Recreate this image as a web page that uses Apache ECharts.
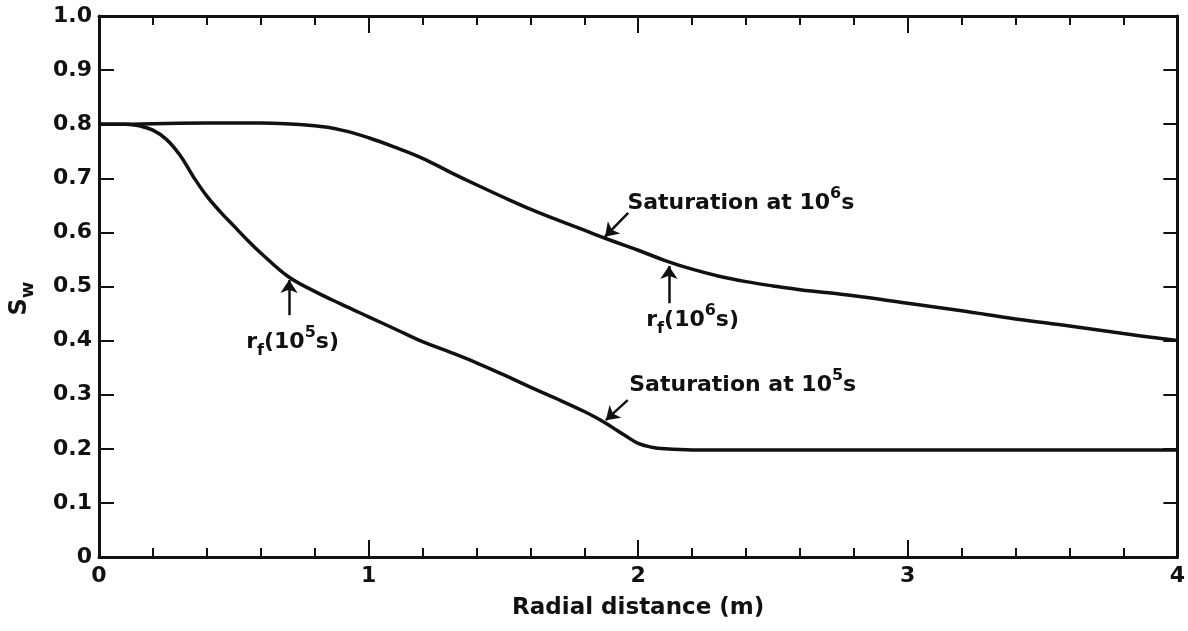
<!DOCTYPE html>
<html>
<head>
<meta charset="utf-8">
<script src="https://cdn.jsdelivr.net/npm/echarts@6/dist/echarts.min.js"></script>
<style>
  html, body { margin: 0; padding: 0; background: #fff; }
  #chart { width: 1188px; height: 631px; }
</style>
</head>
<body>
<div id="chart"></div>
<script>
// saturation profile at 10^6 s
const radial6 = [0, 0.1, 0.2, 0.4, 0.6, 0.8, 0.9, 1.0, 1.1, 1.2, 1.3, 1.4, 1.5, 1.6, 1.7, 1.8, 1.9, 2.0, 2.1, 2.2, 2.3, 2.4, 2.5, 2.6, 2.8, 3.0, 3.2, 3.4, 3.6, 3.8, 4.0];
const sat6 = [0.80, 0.800, 0.801, 0.802, 0.802, 0.797, 0.789, 0.775, 0.757, 0.737, 0.712, 0.688, 0.665, 0.643, 0.623, 0.604, 0.585, 0.567, 0.548, 0.532, 0.519, 0.509, 0.501, 0.494, 0.483, 0.469, 0.455, 0.440, 0.427, 0.413, 0.400];

// saturation profile at 10^5 s
const radial5 = [0, 0.05, 0.1, 0.15, 0.2, 0.25, 0.3, 0.35, 0.4, 0.45, 0.5, 0.55, 0.6, 0.7, 0.8, 0.9, 1.0, 1.1, 1.2, 1.3, 1.4, 1.5, 1.6, 1.7, 1.8, 1.85, 1.9, 1.95, 2.0, 2.05, 2.1, 2.2, 3.0, 4.0];
const sat5 = [0.80, 0.800, 0.800, 0.797, 0.789, 0.772, 0.743, 0.703, 0.667, 0.638, 0.612, 0.586, 0.562, 0.519, 0.491, 0.467, 0.444, 0.421, 0.398, 0.379, 0.359, 0.337, 0.314, 0.292, 0.269, 0.256, 0.241, 0.225, 0.210, 0.203, 0.200, 0.198, 0.198, 0.198];

const xTickLabels = ['0', '1', '2', '3', '4'];
const yTickLabels = ['0', '0.1', '0.2', '0.3', '0.4', '0.5', '0.6', '0.7', '0.8', '0.9', '1.0'];

const font = 'DejaVu Sans';
const ink = '#111';

const zip = (xs, ys) => xs.map((x, i) => [x, ys[i]]);

const rich = {
    b: { fontFamily: font, fontWeight: 'bold', fontSize: 22, color: ink, lineHeight: 34 },
    sup: { fontFamily: font, fontWeight: 'bold', fontSize: 16, color: ink, verticalAlign: 'top', lineHeight: 34 },
    sub: { fontFamily: font, fontWeight: 'bold', fontSize: 16, color: ink, verticalAlign: 'bottom', lineHeight: 34 }
};

// text notes, anchored in data coordinates
const notes = [
    { value: [1.96, 0.654], text: '{b|Saturation at 10}{sup|6}{b|s}' },
    { value: [2.03, 0.438], text: '{b|r}{sub|f}{b|(10}{sup|6}{b|s)}' },
    { value: [0.546, 0.397], text: '{b|r}{sub|f}{b|(10}{sup|5}{b|s)}' },
    { value: [1.967, 0.318], text: '{b|Saturation at 10}{sup|5}{b|s}' }
];

const arrows = [
    [[1.963, 0.636], [1.877, 0.592]],
    [[2.114, 0.469], [2.114, 0.538]],
    [[0.705, 0.447], [0.705, 0.512]],
    [[1.961, 0.290], [1.880, 0.253]]
];

const chart = echarts.init(document.getElementById('chart'));

const frameLine = { show: true, onZero: false, lineStyle: { color: ink, width: 3 } };

chart.setOption({
    animation: false,
    grid: { left: 97, right: 6, top: 16, bottom: 74 },
    xAxis: [
        {
            type: 'value', min: 0, max: 4, interval: 1, position: 'bottom',
            name: 'Radial distance (m)', nameLocation: 'middle', nameGap: 40,
            nameTextStyle: { fontFamily: font, fontWeight: 'bold', fontSize: 23, color: ink },
            axisLine: frameLine,
            axisTick: { show: true, inside: true, length: 17, lineStyle: { color: ink, width: 2 } },
            minorTick: { show: true, splitNumber: 5, length: 9, lineStyle: { color: ink, width: 2 } },
            axisLabel: {
                fontFamily: font, fontWeight: 'bold', fontSize: 22, color: ink, margin: 8,
                formatter: v => xTickLabels[Math.round(v)]
            },
            splitLine: { show: false }
        },
        {
            type: 'value', min: 0, max: 4, interval: 1, position: 'top',
            axisLine: frameLine,
            axisTick: { show: true, inside: true, length: 17, lineStyle: { color: ink, width: 2 } },
            minorTick: { show: true, splitNumber: 5, length: 9, lineStyle: { color: ink, width: 2 } },
            axisLabel: { show: false },
            splitLine: { show: false }
        }
    ],
    yAxis: [
        {
            type: 'value', min: 0, max: 1, interval: 0.1, position: 'left',
            name: '{b|S}{sub|w}', nameLocation: 'middle', nameGap: 62, nameRotate: 90,
            nameTextStyle: {
                padding: [0, 24, 0, 0],
                rich: {
                    b: { fontFamily: font, fontWeight: 'bold', fontSize: 24, color: ink, lineHeight: 34 },
                    sub: { fontFamily: font, fontWeight: 'bold', fontSize: 18, color: ink, verticalAlign: 'bottom', lineHeight: 34 }
                }
            },
            axisLine: frameLine,
            axisTick: { show: true, inside: true, length: 15, lineStyle: { color: ink, width: 2 } },
            axisLabel: {
                fontFamily: font, fontWeight: 'bold', fontSize: 22, color: ink, margin: 7,
                formatter: v => yTickLabels[Math.round(v * 10)]
            },
            splitLine: { show: false }
        },
        {
            type: 'value', min: 0, max: 1, interval: 0.1, position: 'right',
            axisLine: frameLine,
            axisTick: { show: true, inside: true, length: 14, lineStyle: { color: ink, width: 2 } },
            axisLabel: { show: false },
            splitLine: { show: false }
        }
    ],
    series: [
        {
            name: 'Saturation at 10^6 s', type: 'line', smooth: 0.4, showSymbol: false,
            data: zip(radial6, sat6),
            lineStyle: { color: ink, width: 3.5 }
        },
        {
            name: 'Saturation at 10^5 s', type: 'line', smooth: 0.4, showSymbol: false,
            data: zip(radial5, sat5),
            lineStyle: { color: ink, width: 3.5 },
            markLine: {
                silent: true, symbol: ['none', 'arrow'], symbolSize: 13,
                label: { show: false },
                itemStyle: { color: ink },
                lineStyle: { color: ink, width: 2.5, type: 'solid' },
                data: arrows.map(a => [{ coord: a[0] }, { coord: a[1] }])
            }
        },
        {
            name: 'notes', type: 'scatter', symbolSize: 0, silent: true,
            itemStyle: { color: ink, opacity: 1 },
            data: notes.map(n => ({ value: n.value, label: { formatter: n.text } })),
            label: { show: true, position: 'right', distance: 0, color: ink, rich: rich }
        }
    ]
});
</script>
</body>
</html>
